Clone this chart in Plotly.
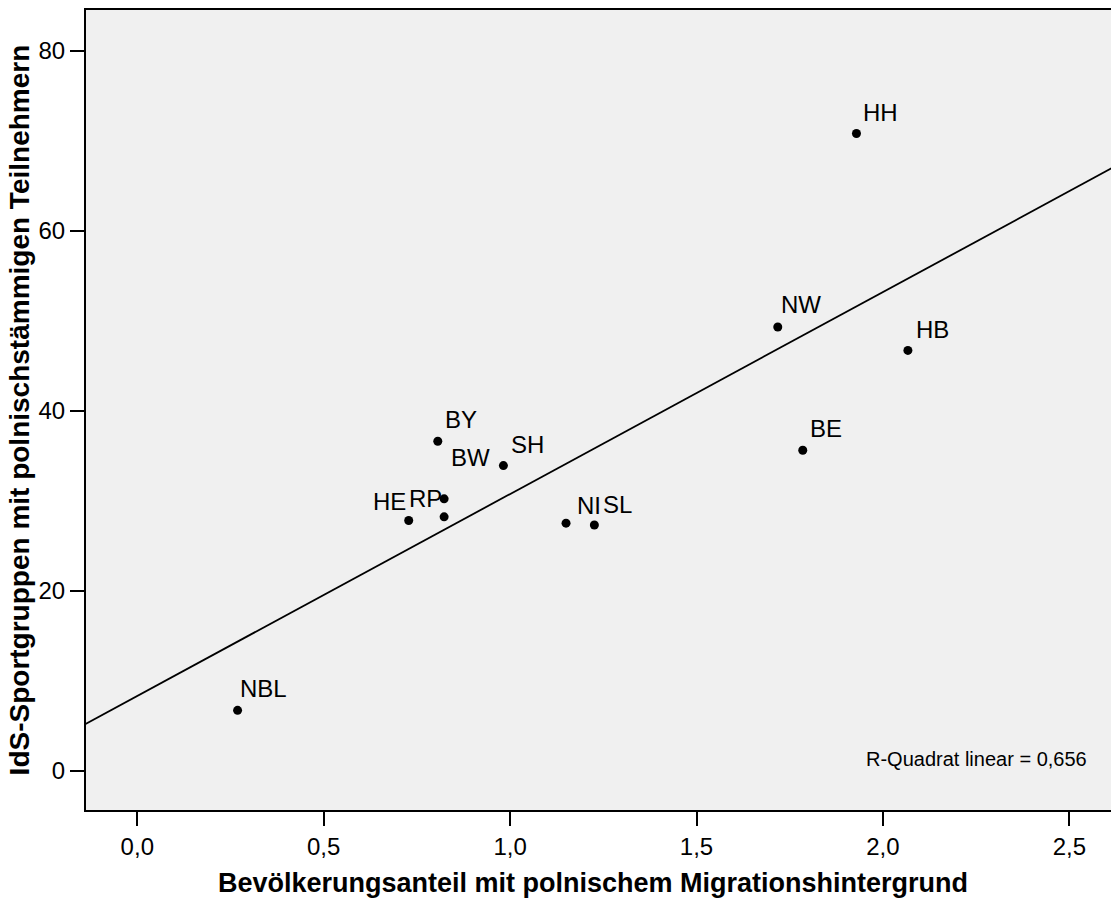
import numpy as np
import plotly.graph_objects as go

# Bundesländer: Anteil mit polnischem Migrationshintergrund (%) und
# IdS-Sportgruppen mit polnischstämmigen Teilnehmern
laender = ["HH", "NW", "HB", "BE", "BY", "SH", "BW", "RP", "HE", "NI", "SL", "NBL"]
anteil_poln = [1.929, 1.718, 2.067, 1.785, 0.806, 0.982, 0.823, 0.823, 0.728, 1.150, 1.226, 0.269]
sportgruppen = [70.8, 49.3, 46.7, 35.6, 36.6, 33.9, 30.2, 28.2, 27.8, 27.5, 27.3, 6.7]

x_ticks = [0.0, 0.5, 1.0, 1.5, 2.0, 2.5]
y_ticks = [0, 20, 40, 60, 80]

# label placement (pixel offsets from the point: right, up)
label_offsets = {
    "HH": (5, 21), "NW": (1, 22), "HB": (6, 21), "BE": (5, 22),
    "BY": (5, 22), "SH": (6, 21), "BW": (5, 41), "RP": (-37, 18),
    "HE": (-38, 19), "NI": (9, 18), "SL": (7, 20), "NBL": (0, 22),
}

FONT = "Liberation Sans, Arial, Helvetica, sans-serif"

x = np.array(anteil_poln)
y = np.array(sportgruppen)
slope, intercept = np.polyfit(x, y, 1)
r2 = np.corrcoef(x, y)[0, 1] ** 2

x_range = [-0.1376, 2.6118]
y_range = [-4.37, 84.52]

fig = go.Figure()

# linear fit across the whole plotting area
fx = np.array([x_range[0] - 0.05, x_range[1] + 0.05])
fig.add_trace(go.Scatter(
    x=fx, y=intercept + slope * fx, mode="lines",
    line=dict(color="black", width=1.8),
    hoverinfo="skip", showlegend=False,
))

fig.add_trace(go.Scatter(
    x=anteil_poln, y=sportgruppen, mode="markers", text=laender,
    marker=dict(color="black", size=9),
    showlegend=False,
))

annotations = []
for name, xv, yv in zip(laender, anteil_poln, sportgruppen):
    dx, dy = label_offsets[name]
    annotations.append(dict(
        x=xv, y=yv, xref="x", yref="y", text=name, showarrow=False,
        xanchor="left", yanchor="middle", xshift=dx, yshift=dy,
        font=dict(family=FONT, size=24, color="black"),
    ))

r2_text = "R-Quadrat linear = " + f"{r2:.3f}".replace(".", ",")
annotations.append(dict(
    x=0.759, y=0.0634, xref="paper", yref="paper", text=r2_text,
    showarrow=False, xanchor="left", yanchor="middle",
    font=dict(family=FONT, size=20, color="black"),
))

annotations.append(dict(
    x=0.4946, y=-0.091, xref="paper", yref="paper",
    text="<b>Bevölkerungsanteil mit polnischem Migrationshintergrund</b>",
    showarrow=False, xanchor="center", yanchor="middle",
    font=dict(family=FONT, size=27, color="black"),
))
annotations.append(dict(
    x=-0.065, y=0.5, xref="paper", yref="paper",
    text="<b>IdS-Sportgruppen mit polnischstämmigen Teilnehmern</b>",
    showarrow=False, xanchor="center", yanchor="middle", textangle=-90,
    font=dict(family=FONT, size=28, color="black"),
))

fig.update_layout(
    width=1111, height=900,
    margin=dict(l=86, r=0, t=10, b=90),
    paper_bgcolor="white", plot_bgcolor="#F0F0F0",
    separators=", ",
    font=dict(family=FONT, size=24, color="black"),
    annotations=annotations,
    xaxis=dict(
        range=x_range, tickvals=x_ticks, tickformat=".1f",
        showgrid=False, zeroline=False,
        showline=True, linecolor="black", linewidth=2, mirror=True,
        ticks="outside", ticklen=14, tickwidth=2, tickcolor="black",
        tickfont=dict(family=FONT, size=24, color="black"),
    ),
    yaxis=dict(
        range=y_range, tickvals=y_ticks,
        showgrid=False, zeroline=False,
        showline=True, linecolor="black", linewidth=2, mirror=False,
        ticks="outside", ticklen=14, tickwidth=2, tickcolor="black",
        tickfont=dict(family=FONT, size=24, color="black"),
    ),
)

fig.write_html("out.html")
